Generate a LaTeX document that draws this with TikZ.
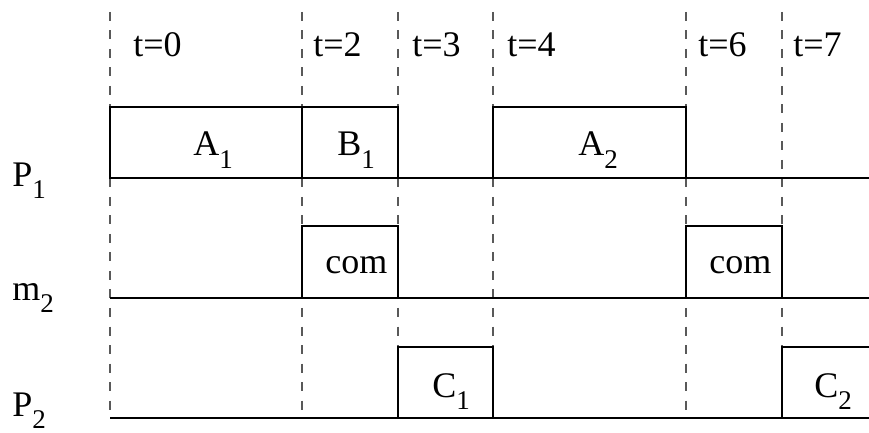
\documentclass[tikz,border=0pt]{standalone}
\usepackage{fontspec}
\setmainfont{Liberation Serif}
\usetikzlibrary{positioning}
\newcommand{\lowidx}[2]{#1\raisebox{-6pt}{\fontsize{13.5}{14}\selectfont #2}}

\begin{document}
\begin{tikzpicture}[
    x=0.5pt, y=-0.5pt,
    lbl/.style={font=\fontsize{18}{20}\selectfont, inner sep=0pt, anchor=base west},
    tick/.style={gray!70!black, dash pattern=on 4.5pt off 4.75pt, line width=0.6pt},
    lane/.style={line width=0.75pt},
    slot/.style={draw, line width=0.75pt},
]
\useasboundingbox (0,0) rectangle (869,433);

% time marks
\foreach \x/\t/\dx in {110/0/23, 302/2/11, 398/3/14, 493/4/14, 686/6/12, 782/7/11} {
    \draw[tick] (\x,12) -- (\x,418);
    \node[lbl] (t\t) at (\x+\dx,57) {t=\t};
}

% lane names
\node[lbl] (p1) at (12,187) {\lowidx{P}{1}};
\node[lbl] (m2) at (12,300) {\lowidx{m}{2}};
\node[lbl] (p2) at (12,416) {\lowidx{P}{2}};

% time lines
\draw[lane] (110,178) -- (869,178);
\draw[lane] (110,298) -- (869,298);
\draw[lane] (110,418) -- (869,418);

% P1 tasks
\draw[slot] (110,178) rectangle (302,107);
\draw[slot] (302,178) rectangle (398,107);
\draw[slot] (493,178) rectangle (686,107);
\node[lbl] (a1) at (193,156) {\lowidx{A}{1}};
\node[lbl] (b1) at (337,156) {\lowidx{B}{1}};
\node[lbl] (a2) at (578,156) {\lowidx{A}{2}};

% m2 messages
\draw[slot] (302,298) rectangle (398,226);
\draw[slot] (686,298) rectangle (782,226);
\node[lbl] (c1) at (325,274) {com};
\node[lbl] (c2) at (709,274) {com};

% P2 tasks
\draw[slot] (398,418) rectangle (493,347);
\draw[lane] (782,418) |- (869,347);
\node[lbl] (x1) at (432,397) {\lowidx{C}{1}};
\node[lbl] (x2) at (814,397) {\lowidx{C}{2}};

\end{tikzpicture}
\end{document}
